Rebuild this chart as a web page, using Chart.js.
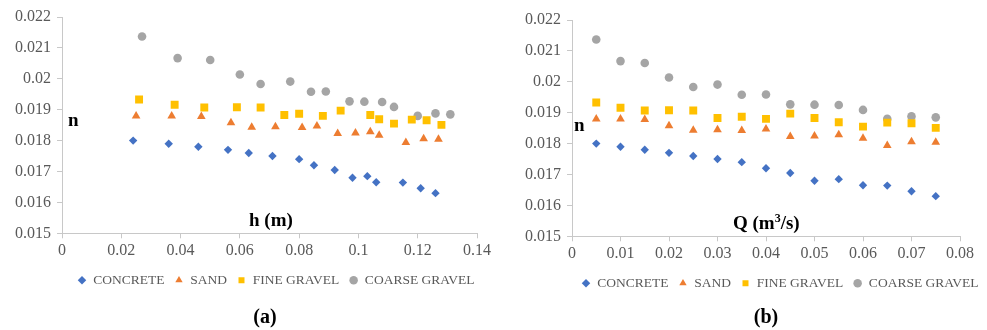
<!DOCTYPE html>
<html><head><meta charset="utf-8">
<script src="https://cdn.jsdelivr.net/npm/chart.js@4.4.0/dist/chart.umd.min.js"></script>
<style>
html,body{margin:0;padding:0;background:#fff;width:987px;height:330px;overflow:hidden;font-family:"Liberation Serif","Times New Roman",serif;}
.box{position:absolute;height:300px;}
#wa{left:0;top:0;width:494px;}
#wb{left:500px;top:3px;width:487px;}
.lbl{position:absolute;font-weight:bold;color:#000;font-size:19px;line-height:19px;white-space:nowrap;}
.lbl sup{font-size:12px;line-height:0;vertical-align:7px;}
.cap{position:absolute;font-weight:bold;color:#000;font-size:20px;line-height:20px;width:40px;text-align:center;}
</style></head><body>
<div class="box" id="wa"><canvas id="ca"></canvas></div>
<div class="box" id="wb"><canvas id="cb"></canvas></div>
<div class="lbl" style="left:68px;top:110px;">n</div>
<div class="lbl" style="left:249px;top:210px;">h (m)</div>
<div class="lbl" style="left:574px;top:115px;">n</div>
<div class="lbl" style="left:733px;top:213px;">Q (m<sup>3</sup>/s)</div>
<div class="cap" style="left:245px;top:306px;">(a)</div>
<div class="cap" style="left:746px;top:306px;">(b)</div>
<script>
// Series names
const seriesNames = ['CONCRETE', 'SAND', 'FINE GRAVEL', 'COARSE GRAVEL'];
// Manning n values (shared by both panels)
const nConcrete = [0.0180,0.0179,0.0178,0.0177,0.0176,0.0175,0.0174,0.0172,0.01705,0.0168,0.01685,0.01665,0.01664,0.01646,0.0163];
const nSand     = [0.01880,0.01880,0.01878,0.01858,0.01843,0.01845,0.01842,0.01847,0.01823,0.01825,0.01829,0.01817,0.01794,0.01806,0.01804];
const nFine     = [0.01933,0.01916,0.01907,0.01908,0.01907,0.01883,0.01887,0.01880,0.01897,0.01883,0.01869,0.01855,0.01868,0.01866,0.01851];
const nCoarse   = [0.02137,0.02067,0.02061,0.02014,0.01983,0.01991,0.01958,0.01959,0.01927,0.01926,0.01925,0.01909,0.01880,0.01888,0.01885];
// Panel (a): flow depth h (m) per material
const hConcrete = [0.024,0.036,0.046,0.056,0.063,0.071,0.080,0.085,0.092,0.098,0.103,0.106,0.115,0.121,0.126];
const hSand     = [0.025,0.037,0.047,0.057,0.064,0.072,0.081,0.086,0.093,0.099,0.104,0.107,0.116,0.122,0.127];
const hFine     = [0.026,0.038,0.048,0.059,0.067,0.075,0.080,0.088,0.094,0.104,0.107,0.112,0.118,0.123,0.128];
const hCoarse   = [0.027,0.039,0.050,0.060,0.067,0.077,0.084,0.089,0.097,0.102,0.108,0.112,0.120,0.126,0.131];
// Panel (b): discharge Q (m3/s)
const qValues   = [0.005,0.010,0.015,0.020,0.025,0.030,0.035,0.040,0.045,0.050,0.055,0.060,0.065,0.070,0.075];
// Axis ranges
const yRange = {min:0.015, max:0.022, step:0.001};
const xRangeA = {min:0, max:0.14, step:0.02};
const xRangeB = {min:0, max:0.08, step:0.01};

const colors = ['#4472C4','#ED7D31','#FFC000','#A5A5A5'];
const styles = ['rectRot','triangle','rect','circle'];
const radii = [4.2, 5.0, 5.6, 4.3];
const nSeries = [nConcrete, nSand, nFine, nCoarse];

function pts(xs, ys){ return xs.map((x,i)=>({x:x, y:ys[i]})); }
function fmt(v){ return String(parseFloat(Number(v).toFixed(4))); }

function makeChart(id, xsList, xr, padLeft, padRight, legendCenter){
  const datasets = seriesNames.map((name,i)=>({
    label: name,
    data: pts(xsList[i], nSeries[i]),
    backgroundColor: colors[i],
    borderColor: colors[i],
    borderWidth: 0,
    pointStyle: styles[i],
    pointRadius: radii[i],
    pointHoverRadius: radii[i],
    showLine: false
  }));
  const tickFont = {family:'"Liberation Serif", serif', size:16};
  const shiftLegend = {
    id:'shiftLegend',
    afterUpdate(chart){
      const lg = chart.legend;
      if (!lg || !lg.legendHitBoxes || !lg.legendHitBoxes.length) return;
      let minX = Infinity, maxX = -Infinity;
      lg.legendHitBoxes.forEach(b=>{ minX=Math.min(minX,b.left); maxX=Math.max(maxX,b.left+b.width); });
      const dx = legendCenter - (minX+maxX)/2;
      lg.left += dx; lg.right += dx;
      lg.legendHitBoxes.forEach(b=>{ b.left += dx; });
    }
  };
  return new Chart(document.getElementById(id), {
    type:'scatter',
    data:{datasets},
    plugins:[shiftLegend],
    options:{
      responsive:true, maintainAspectRatio:false, animation:false,
      layout:{padding:{left:padLeft, top:17, right:padRight, bottom:3}},
      plugins:{
        legend:{position:'bottom', labels:{usePointStyle:true, boxWidth:9, boxHeight:6, padding:10,
          color:'#595959', font:{family:'"Liberation Serif", serif', size:13.5}}},
        tooltip:{enabled:false}
      },
      scales:{
        x:{type:'linear', min:xr.min, max:xr.max,
          ticks:{stepSize:xr.step, color:'#595959', font:tickFont, padding:3, maxRotation:0, callback:fmt},
          grid:{display:true, drawOnChartArea:false, drawTicks:true, tickLength:5, color:'#C8C8C8'},
          border:{display:true, color:'#C8C8C8'}},
        y:{type:'linear', min:yRange.min, max:yRange.max,
          afterFit:(s)=>{ s.width = 48; },
          ticks:{stepSize:yRange.step, color:'#595959', font:tickFont, padding:6, callback:fmt},
          grid:{display:true, drawOnChartArea:false, drawTicks:true, tickLength:5, color:'#C8C8C8'},
          border:{display:true, color:'#C8C8C8'}}
      }
    }
  });
}
makeChart('ca', [hConcrete, hSand, hFine, hCoarse], xRangeA, 14, 14, 276);
makeChart('cb', [qValues, qValues, qValues, qValues], xRangeB, 24, 27, 280);
</script>
</body></html>
